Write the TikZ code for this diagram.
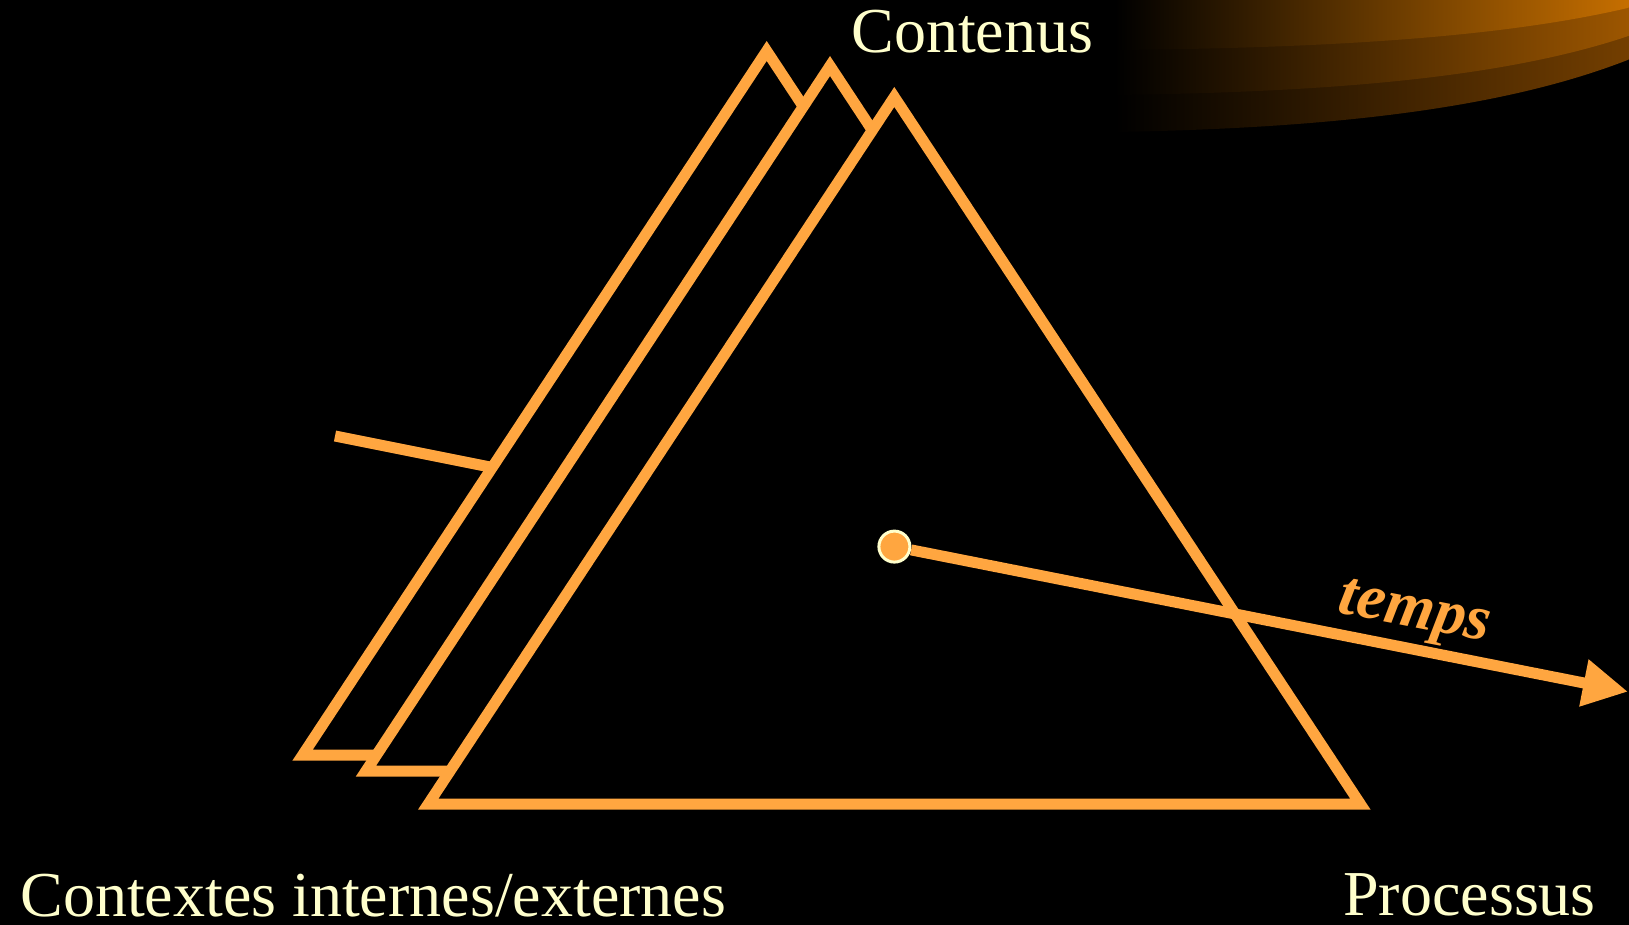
\documentclass[tikz,border=0pt]{standalone}
\usepackage{fontspec}
\setmainfont{Liberation Serif}
\usetikzlibrary{arrows.meta}
\definecolor{orng}{RGB}{255,166,64}
\definecolor{cream}{RGB}{255,255,204}
\definecolor{bandA}{RGB}{202,113,0}
\definecolor{bandB}{RGB}{160,88,0}
\definecolor{bandC}{RGB}{118,64,0}
\tikzset{
  prism/.style={draw=orng, fill=black, line width=5.5pt, line join=miter},
  axis/.style={draw=orng, line width=5.5pt},
  label/.style={text=cream, inner sep=0pt, font=\fontsize{32pt}{38pt}\selectfont},
  dotnode/.style={circle, fill=orng, draw=cream, line width=1.5pt, minimum size=15.5pt, inner sep=0pt},
  timelabel/.style={text=orng, inner sep=0pt, font=\fontsize{32pt}{38pt}\selectfont\bfseries\itshape}
}
\begin{document}
\begin{tikzpicture}[x=0.5pt, y=-0.5pt]
\useasboundingbox (0,0) rectangle (1629,925);
\fill[black] (0,0) rectangle (1629,925);
\clip (0,0) rectangle (1629,925);
% decorative bands
\shade[left color=black, right color=bandC]
  (1115,-5) -- (1115,132) .. controls (1350,128) and (1520,105) .. (1640,55) -- (1640,-5) -- cycle;
\shade[left color=black, right color=bandB]
  (1115,-5) -- (1115,95) .. controls (1350,92) and (1520,75) .. (1640,32) -- (1640,-5) -- cycle;
\shade[left color=black, right color=bandA]
  (1115,-5) -- (1115,50) .. controls (1350,48) and (1520,35) .. (1640,5) -- (1640,-5) -- cycle;
% time axis stub (behind prisms)
\coordinate (s0) at (335,436);
\coordinate (s1) at (500,469);
\draw[axis] (s0) -- (s1);
% prisms
\coordinate (bA) at (766.7,51);
\coordinate (bL) at (302.7,755);
\coordinate (bR) at (1230.7,755);
\coordinate (mA) at (830,66);
\coordinate (mL) at (366,771);
\coordinate (mR) at (1294,771);
\coordinate (fA) at (894.3,97);
\coordinate (fL) at (428.3,804);
\coordinate (fR) at (1360.3,804);
\path[prism] (bA) -- (bL) -- (bR) -- cycle;
\path[prism] (mA) -- (mL) -- (mR) -- cycle;
\path[prism] (fA) -- (fL) -- (fR) -- cycle;
% time arrow
\node[dotnode] (dot) at (894.4,546.6) {};
\coordinate (tip) at (1628,691.7);
\draw[axis, -{Triangle[length=22.5pt, width=22.5pt]}] (dot) -- (tip);
\node[timelabel, anchor=base, rotate=-11] (temps) at (1412,627) {temps};
% labels
\node[label, anchor=base west] (contenus) at (851,53) {Contenus};
\node[label, anchor=base west] (contextes) at (20,916) {Contextes internes/externes};
\node[label, anchor=base west] (processus) at (1343,915) {Processus};
\end{tikzpicture}
\end{document}
